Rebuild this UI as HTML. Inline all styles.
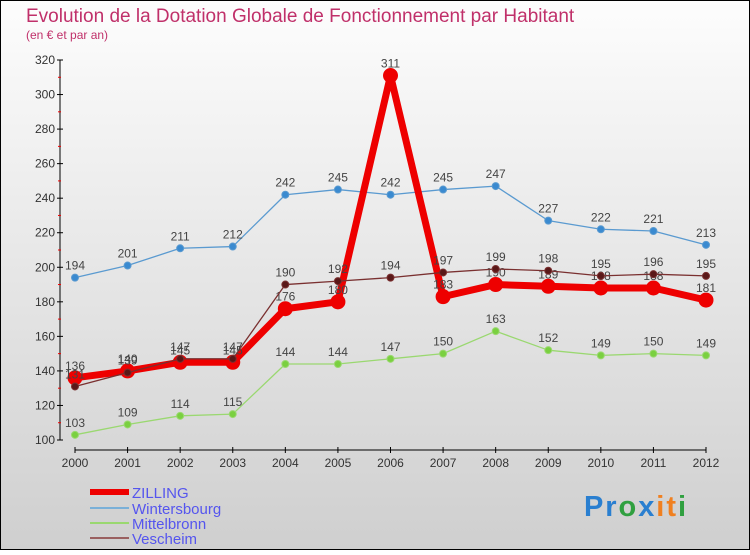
<!DOCTYPE html>
<html><head><meta charset="utf-8"><style>
html,body{margin:0;padding:0}
body{width:750px;height:550px;overflow:hidden;font-family:"Liberation Sans",sans-serif}
svg text{font-family:"Liberation Sans",sans-serif}
</style></head><body>
<svg id="chart" width="750" height="550" xmlns="http://www.w3.org/2000/svg">
<defs><linearGradient id="bg" x1="0" y1="0" x2="0" y2="1"><stop offset="0" stop-color="#fdfdfd"/><stop offset="1" stop-color="#cfcfcf"/></linearGradient></defs>
<rect x="0.5" y="0.5" width="749" height="549" fill="url(#bg)" stroke="#000"/>
<text x="26" y="22" font-size="19" fill="#c0306a">Evolution de la Dotation Globale de Fonctionnement par Habitant</text>
<text x="26" y="39" font-size="12" fill="#c0306a">(en € et par an)</text>
<g id="axes"></g><g id="series"></g>
<g>
<line x1="90" y1="492" x2="129" y2="492" stroke="#e00" stroke-width="6"/>
<text x="132" y="498" font-size="15" fill="#5555ee">ZILLING</text>
<line x1="90" y1="508" x2="129" y2="508" stroke="#7ab0d8" stroke-width="2"/>
<text x="132" y="514" font-size="15" fill="#5555ee">Wintersbourg</text>
<line x1="90" y1="523" x2="129" y2="523" stroke="#9ad870" stroke-width="2"/>
<text x="132" y="529" font-size="15" fill="#5555ee">Mittelbronn</text>
<line x1="90" y1="538" x2="129" y2="538" stroke="#9a6060" stroke-width="2"/>
<text x="132" y="544" font-size="15" fill="#5555ee">Vescheim</text>
</g>
<text x="584" y="516" font-size="29" font-weight="bold" textLength="102"><tspan fill="#2a7fd0">Pr</tspan><tspan fill="#30a040">o</tspan><tspan fill="#2a7fd0">x</tspan><tspan fill="#f08020">it</tspan><tspan fill="#30a040">i</tspan></text>
</svg>
<script>
const years=[2000,2001,2002,2003,2004,2005,2006,2007,2008,2009,2010,2011,2012];
const yTicks=[100,120,140,160,180,200,220,240,260,280,300,320];
const zilling=[136,140,145,145,176,180,311,183,190,189,188,188,181];
const wintersbourg=[194,201,211,212,242,245,242,245,247,227,222,221,213];
const mittelbronn=[103,109,114,115,144,144,147,150,163,152,149,150,149];
const vescheim=[131,139,147,147,190,192,194,197,199,198,195,196,195];
const NS='http://www.w3.org/2000/svg';
const xs=i=>75+i*(706-75)/(years.length-1);
const ys=v=>440-(v-100)*(380/220);
function mk(t,a,p){const e=document.createElementNS(NS,t);for(const k in a)e.setAttribute(k,a[k]);p.appendChild(e);return e;}
const ax=document.getElementById('axes');
mk('line',{x1:60,y1:60,x2:60,y2:440,stroke:'#000'},ax);
mk('line',{x1:75,y1:450,x2:706,y2:450,stroke:'#000'},ax);
yTicks.forEach(v=>{
 mk('line',{x1:57,y1:ys(v),x2:63,y2:ys(v),stroke:'#000'},ax);
 if(v<320) mk('line',{x1:58,y1:ys(v+10),x2:61,y2:ys(v+10),stroke:'#e00'},ax);
 const t=mk('text',{x:55,y:ys(v)+4,'font-size':12,fill:'#333','text-anchor':'end'},ax);t.textContent=v;
 
 
});
years.forEach((y,i)=>{
 mk('line',{x1:xs(i),y1:447,x2:xs(i),y2:453,stroke:'#000'},ax);
 const t=mk('text',{x:xs(i),y:467,'font-size':12,fill:'#333','text-anchor':'middle'},ax);t.textContent=y;
 
 
});
const sg=document.getElementById('series');
function series(vals,color,lw,r,dot,name){
 const g=mk('g',{},sg);
 
 
 mk('polyline',{points:vals.map((v,i)=>xs(i)+','+ys(v)).join(' '),fill:'none',stroke:color,'stroke-width':lw,'stroke-linejoin':'round'},g);
 vals.forEach((v,i)=>{
  const c=mk('circle',{cx:xs(i),cy:ys(v),r:r,fill:dot,stroke:color,'stroke-width':1},g);
  
  
  const t=mk('text',{x:xs(i),y:ys(v)-8,'font-size':12,fill:'#444','text-anchor':'middle'},g);t.textContent=v;
 });
}
series(wintersbourg,'#5a9ad0',1.3,3.5,'#3a8ad0','wintersbourg');
series(mittelbronn,'#9ad870',1.3,3.5,'#7ad040','mittelbronn');
series(zilling,'#ee0000',7,7,'#ee0000','zilling');
series(vescheim,'#7a3030',1.3,3.5,'#5a1818','vescheim');
</script>
</body></html>
